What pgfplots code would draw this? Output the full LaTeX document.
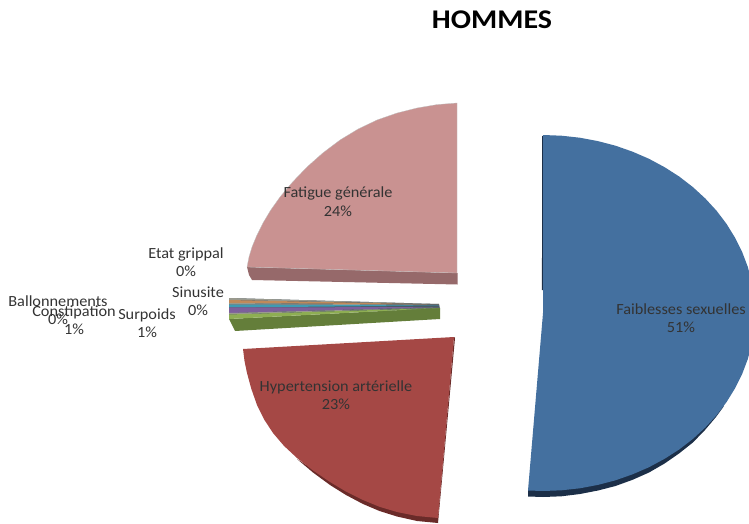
\documentclass[border=0pt]{standalone}
\usepackage{pgfplots}
\pgfplotsset{compat=1.18}
\usepackage{fontspec}
\setmainfont{Carlito}
\definecolor{blueT}{HTML}{44709F}
\definecolor{blueD}{HTML}{1C2F48}
\definecolor{pinkT}{HTML}{C99291}
\definecolor{pinkD}{HTML}{96696A}
\definecolor{redT}{HTML}{A54845}
\definecolor{redD}{HTML}{6A2B29}
\definecolor{olT}{HTML}{8EAE53}
\definecolor{olD}{HTML}{647E3A}
\definecolor{purT}{HTML}{7D5F9C}
\definecolor{teaT}{HTML}{3F9BB3}
\definecolor{oraT}{HTML}{C08A5A}
\definecolor{graT}{HTML}{9A9A8E}
\definecolor{slat}{HTML}{4A5A66}
\definecolor{txt}{HTML}{333333}
\begin{document}
\begin{tikzpicture}
\begin{axis}[
  hide axis, scale only axis, width=749pt, height=524pt,
  xmin=0, xmax=749, ymin=0, ymax=524, y dir=reverse, no markers,
]
\path (axis cs:0,0) rectangle (axis cs:749,524);
% blue side
\addplot[fill=blueD, draw=none] coordinates {(528,490) (528,496.5) (543,497) (561.5,496.3) (580,494) (598,490.5) (615.5,486) (632.6,479.8) (649,472.5) (664.6,463.5) (679,453.5) (692.9,442.5) (705,430) (716,417) (724,406) (700,420)} --cycle;
\addplot[draw=blueD, line width=0.9pt] coordinates {(542.6,136) (542.4,290)};
% blue top
\addplot[fill=blueT, draw=none] coordinates {(543,135) (561.5,135.7) (579.8,137.7) (597.9,141.1) (615.5,145.7) (632.6,151.7) (649,158.8) (664.6,167.2) (679.3,176.6) (692.9,187.1) (705.4,198.6) (716.7,210.9) (726.6,224) (735.1,237.8) (742.2,252.1) (747.8,266.9) (751.8,282.1) (754.2,297.5) (755,313) (754.2,328.5) (751.8,343.9) (747.8,359.1) (742.2,373.9) (735.1,388.2) (726.6,402) (716.7,415.1) (705.4,427.4) (692.9,438.9) (679.3,449.4) (664.6,458.8) (649,467.2) (632.6,474.3) (615.5,480.3) (597.9,484.9) (579.8,488.3) (561.5,490.3) (543,491) (528,490.5) (543,313)} --cycle;
% pink side
\addplot[fill=pinkD, draw=none] coordinates {(247,267) (249,275) (252,280) (457.5,284.5) (457.5,273) (457,273)} --cycle;
% pink top
\addplot[fill=pinkT, draw=gray!50, line width=0.3pt] coordinates {(457,103) (437,104.6) (417,108) (396.8,113.1) (377,120) (358,129.1) (340,140) (322.9,152.9) (307,167) (292.5,182.1) (280,197) (270.5,210.4) (263,223) (256.8,235.4) (252,247) (249,257) (247,267) (457,273)} --cycle;
% red side
\addplot[fill=redD, draw=none] coordinates {(455,338) (438,523) (417,521) (397,516.5) (379.5,511) (363,504) (346,495) (330,485) (313,472.5) (297,459) (330,480) (438,517) (454,337)} --cycle;
% red top
\addplot[fill=redT, draw=none] coordinates {(454,337) (243,349) (244.5,361) (247,373) (251.3,388.8) (257,405) (264.1,419.4) (273,433) (283.9,445.8) (297,458) (312.9,470.4) (330,482) (346.4,491.8) (363,500) (379.5,506.8) (397,512) (417,516) (438,518)} --cycle;
% small slices
\addplot[fill=slat, draw=none] coordinates {(229,298) (439,304) (440,309) (229,316)} --cycle;
\addplot[fill=graT, draw=none] coordinates {(229,298) (439,304) (229,300)} --cycle;
\addplot[fill=oraT, draw=none] coordinates {(229,300) (439,304.5) (229,303)} --cycle;
\addplot[fill=graT, draw=none] coordinates {(229,303) (439,305) (229,304.5)} --cycle;
\addplot[fill=teaT, draw=none] coordinates {(229,304.5) (439,305.5) (229,307.5)} --cycle;
\addplot[fill=purT, draw=none] coordinates {(229,307.5) (439,307) (229,313)} --cycle;
\addplot[fill=graT, draw=none] coordinates {(229,313) (440,307.5) (229,314.5)} --cycle;
\addplot[fill=olD, draw=none] coordinates {(229,319) (235,331) (440,319) (440,308)} --cycle;
\addplot[fill=olT, draw=none] coordinates {(229,314.5) (440,308) (229,319)} --cycle;
% labels
\newcommand{\lab}[3]{\node[text=txt, font=\fontsize{15.5}{15.5}\selectfont, inner sep=0pt, anchor=center, align=center, xscale=1.05] at (axis cs:#1,#2) {#3};}
\lab{681}{309}{Faiblesses sexuelles}
\lab{681}{327}{51\%}
\lab{338}{193}{Fatigue générale}
\lab{338}{211}{24\%}
\lab{336}{387}{Hypertension artérielle}
\lab{336}{404}{23\%}
\lab{186}{254}{Etat grippal}
\lab{186}{271}{0\%}
\lab{198}{292}{Sinusite}
\lab{198}{310}{0\%}
\lab{147}{315}{Surpoids}
\lab{147}{332}{1\%}
\lab{58}{301}{Ballonnements}
\lab{58}{319}{0\%}
\lab{74}{312}{Constipation}
\lab{74}{329}{1\%}
\node[font=\bfseries\fontsize{27}{27}\selectfont, text=black, inner sep=0pt, anchor=center, xscale=1.11] at (axis cs:492,20) {HOMMES};
\end{axis}
\end{tikzpicture}
\end{document}
